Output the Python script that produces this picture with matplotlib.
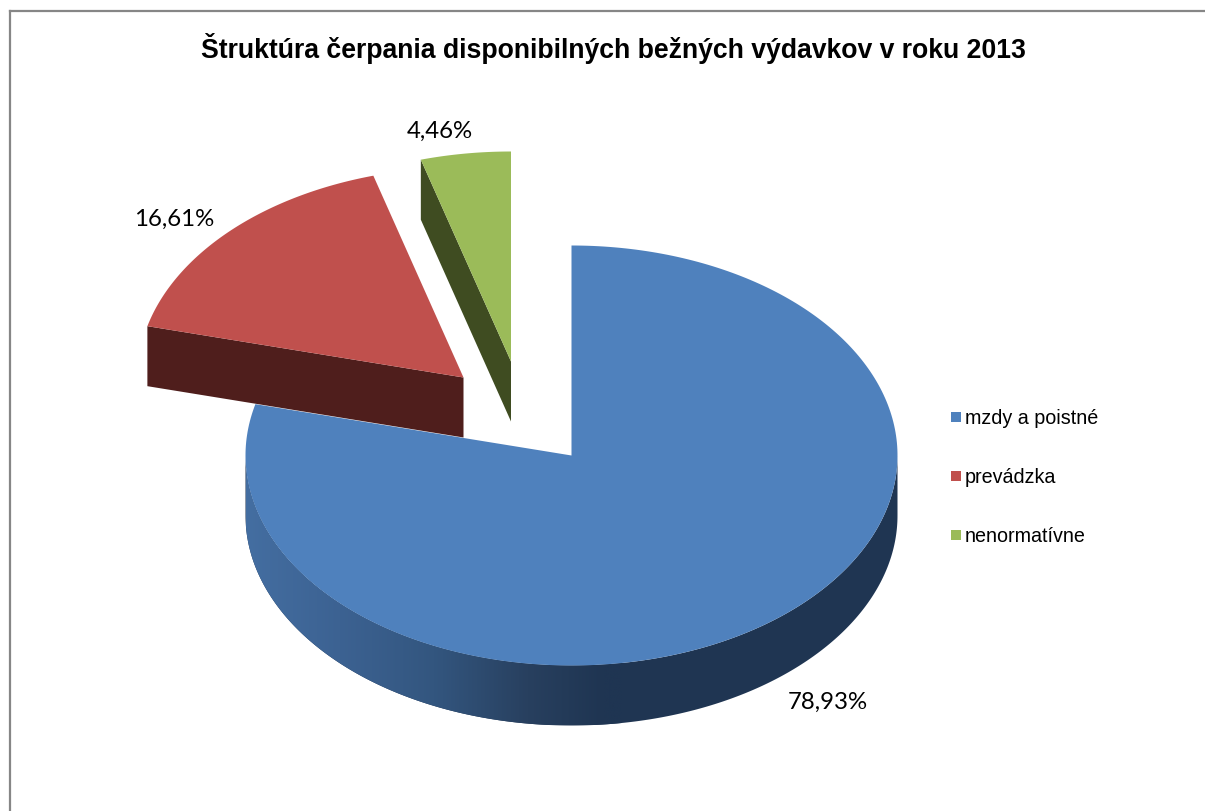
#!/usr/bin/python3
import numpy as np
import matplotlib as mpl
mpl.use('Agg')
import matplotlib.pyplot as plt
from matplotlib.colors import LinearSegmentedColormap
from matplotlib.patches import Polygon

title = "Štruktúra čerpania disponibilných bežných výdavkov v roku 2013"
categories = ["mzdy a poistné", "prevádzka", "nenormatívne"]
shares = [78.93, 16.61, 4.46]
labels = ["78,93%", "16,61%", "4,46%"]
colors = ["#4f81bd", "#c0504d", "#9bbb59"]

# pie geometry, in pixels
centers = [(571.5, 456.5), (463.5, 378.5), (511, 362.5)]
rx, ry, depth = 326, 210, 60
label_pos = [(827.5, 702), (174, 219), (439.5, 131)]
legend_y = [418, 477, 536]


def arc(cx, cy, t0, t1, n=300):
  # t is clockwise from 12 o'clock, in degrees
  t = np.radians(np.linspace(t0, t1, n))
  return np.column_stack((cx + rx * np.sin(t), cy - ry * np.cos(t)))


fig = plt.figure(figsize=(12.05, 8.12), dpi=100)
ax = fig.add_axes([0, 0, 1, 1])
ax.set_xlim(0, 1205)
ax.set_ylim(812, 0)
ax.axis("off")

# frame, only left and top are inside the picture
ax.plot([9.5, 9.5], [812, 12], color="#868686", lw=1.6, solid_capstyle="projecting")
ax.plot([9.5, 1205], [12, 12], color="#868686", lw=1.6, solid_capstyle="projecting")

edges = 360 * np.cumsum([0] + shares) / sum(shares)
starts, ends = edges[:-1], edges[1:]

# blue outer wall with its gradient
cx, cy = centers[0]
top = arc(cx, cy, 90, 270)
wall = np.vstack((top, top[::-1] + [0, depth]))
cmap = LinearSegmentedColormap.from_list(
  "wall", [(0, "#446ea1"), (0.25, "#3c6292"), (0.5, "#33567f"),
           (0.75, "#28405f"), (0.95, "#1f3552"), (1, "#1f3552")])
im = ax.imshow(np.linspace(0, 1, 256).reshape(1, -1), cmap=cmap, aspect="auto",
               extent=(cx - rx, cx + 50, cy + ry + depth, cy), zorder=1)
ax.add_patch(Polygon(wall, facecolor="#1f3552", edgecolor="none", zorder=0.9))
im.set_clip_path(Polygon(wall, transform=ax.transData))
ax.set_xlim(0, 1205)
ax.set_ylim(812, 0)

# blue top
pts = np.vstack(([centers[0]], arc(cx, cy, starts[0], ends[0])))
ax.add_patch(Polygon(pts, facecolor=colors[0], edgecolor="none", zorder=2))

# red cut wall + top
cx, cy = centers[1]
p = arc(cx, cy, starts[1], starts[1], 1)[0]
ax.add_patch(Polygon([p, (cx, cy), (cx, cy + depth), p + [0, depth]],
                     facecolor="#4f1e1c", edgecolor="none", zorder=3))
pts = np.vstack(([centers[1]], arc(cx, cy, starts[1], ends[1])))
ax.add_patch(Polygon(pts, facecolor=colors[1], edgecolor="none", zorder=4))

# green cut wall + top
cx, cy = centers[2]
p = arc(cx, cy, starts[2], starts[2], 1)[0]
ax.add_patch(Polygon([p, (cx, cy), (cx, cy + depth), p + [0, depth]],
                     facecolor="#3f4c21", edgecolor="none", zorder=3))
pts = np.vstack(([centers[2]], arc(cx, cy, starts[2], ends[2])))
ax.add_patch(Polygon(pts, facecolor=colors[2], edgecolor="none", zorder=4))

ax.text(613.5, 48, title, ha="center", va="center", family="Liberation Sans",
        weight="bold", fontsize=19.2, color="black")

for (x, y), lab in zip(label_pos, labels):
  ax.text(x, y, lab, ha="center", va="center", family="Lato", fontsize=17.3, color="black")

for y, cat, col in zip(legend_y, categories, colors):
  ax.add_patch(plt.Rectangle((951, y - 5), 10, 10, facecolor=col, edgecolor="none"))
  ax.text(965, y + 1, cat, ha="left", va="center", family="Liberation Sans",
          fontsize=14.2, color="black")

plt.savefig("out.png", dpi=100)
plt.close(fig)
